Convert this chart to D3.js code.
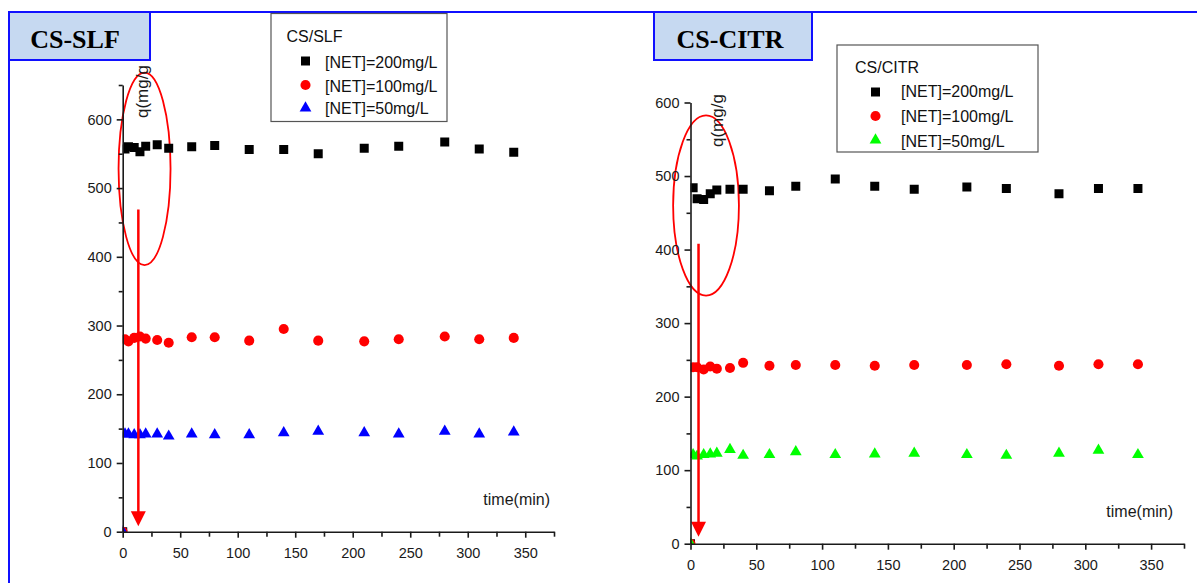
<!DOCTYPE html>
<html><head><meta charset="utf-8">
<script src="https://cdn.jsdelivr.net/npm/d3@7/dist/d3.min.js"></script>
<style>body{margin:0;background:#fff}svg{display:block}</style>
</head><body><svg id="c" width="1197" height="583"></svg>
<script>
// ---- data ----
const times   = [0, 2, 5, 10, 15, 20, 30, 40, 60, 80, 110, 140, 170, 210, 240, 280, 310, 340];
const slf200  = [0, 557, 560, 559, 553, 561, 563, 558, 560, 562, 556, 556, 550, 558, 561, 567, 557, 552];
const slf100  = [0, 280, 277, 282, 284, 281, 279, 275, 283, 283, 278, 295, 278, 277, 280, 284, 280, 282];
const slf50   = [0, 142, 142, 141, 141, 142, 142, 139, 142, 141, 141, 144, 146, 144, 142, 146, 142, 145];
const citr200 = [0, 484, 469, 468, 476, 481, 482, 482, 480, 486, 496, 486, 482, 485, 483, 476, 483, 483];
const citr100 = [0, 240, 240, 237, 241, 238, 239, 246, 242, 243, 243, 242, 243, 243, 244, 242, 244, 244];
const citr50  = [0, 121, 119, 121, 122, 123, 128, 120, 121, 125, 121, 122, 123, 121, 120, 123, 127, 121];
const xTicks  = [0, 50, 100, 150, 200, 250, 300, 350];
const xMinor  = [25, 75, 125, 175, 225, 275, 325, 375];
const yTicks  = [0, 100, 200, 300, 400, 500, 600];
const yMinorL = [50, 150, 250, 350, 450, 550, 650];
const yMinorR = [50, 150, 250, 350, 450, 550];
const seriesNames = ["[NET]=200mg/L", "[NET]=100mg/L", "[NET]=50mg/L"];
// annotation (data units): ellipse [t, q, rt, rq], arrow [t, qFrom, qTo]
const ellipseL = [19, 528, 22.6, 140];
const arrowL   = [13.6, 469, 8];
const ellipseR = [11.8, 460, 25, 122.5];
const arrowR   = [6.1, 408, 9.5];

const svg = d3.select("#c");
const FONT = "'Liberation Sans', Arial, sans-serif";

// frame lines
svg.append("line").attr("x1", 9).attr("x2", 1197).attr("y1", 12).attr("y2", 12)
  .attr("stroke", "#1010ff").attr("stroke-width", 2);
svg.append("line").attr("x1", 9).attr("x2", 9).attr("y1", 12).attr("y2", 583)
  .attr("stroke", "#1010ff").attr("stroke-width", 2);

function titleBox(x, w, label, cx) {
  svg.append("rect").attr("x", x).attr("y", 12).attr("width", w).attr("height", 48)
    .attr("fill", "#c6d9f1").attr("stroke", "#1010ff").attr("stroke-width", 2);
  svg.append("text").attr("x", cx).attr("y", 48).attr("text-anchor", "middle")
    .attr("font-family", "'Liberation Serif', 'Times New Roman', serif")
    .attr("font-weight", "bold").attr("font-size", 26).attr("fill", "#000").text(label);
}
titleBox(9, 141, "CS-SLF", 75);
titleBox(654, 158, "CS-CITR", 730);

const symbols = [d3.symbolSquare, d3.symbolCircle, d3.symbolTriangle];
const sizes = [81, 80, 60];

function panel(p) {
  const x = d3.scaleLinear().domain([0, 375]).range([p.x0, p.x1]);
  const y = d3.scaleLinear().domain([0, p.ymax]).range([p.yB, p.yT]);
  const g = svg.append("g");
  const clipId = "clip" + p.id;
  svg.append("clipPath").attr("id", clipId).append("rect")
    .attr("x", p.x0).attr("y", p.yT - 10).attr("width", p.x1 - p.x0 + 10).attr("height", p.yB - p.yT + 10);

  // annotation ellipse
  const e = p.ellipse;
  g.append("ellipse").attr("cx", x(e[0])).attr("cy", y(e[1]))
    .attr("rx", x(e[2]) - x(0)).attr("ry", y(0) - y(e[3]))
    .attr("fill", "none").attr("stroke", "#ff0000").attr("stroke-width", 1.8);

  // data markers
  const dg = g.append("g").attr("clip-path", `url(#${clipId})`);
  p.series.forEach((vals, i) => {
    dg.selectAll(null).data(times.map((t, k) => [t, vals[k]])).enter()
      .append("path")
      .attr("d", d3.symbol().type(symbols[i]).size(sizes[i]))
      .attr("transform", d => `translate(${x(d[0])},${y(d[1])})`)
      .attr("fill", p.colors[i]);
  });

  // arrow
  const a = p.arrow;
  const ax = x(a[0]), ay1 = y(a[1]), ay2 = y(a[2]);
  g.append("line").attr("x1", ax).attr("x2", ax).attr("y1", ay1).attr("y2", ay2 - 14)
    .attr("stroke", "#ff0000").attr("stroke-width", 2.5);
  g.append("path").attr("d", `M${ax - 7.5},${ay2 - 15} L${ax + 7.5},${ay2 - 15} L${ax},${ay2} Z`)
    .attr("fill", "#ff0000");

  // axes
  const styleAxis = sel => {
    sel.selectAll("path,line").attr("stroke", "#1a1a1a").attr("stroke-width", 1.6);
    sel.selectAll("text").attr("font-family", FONT).attr("font-size", 14.5).attr("fill", "#1a1a1a");
  };
  g.append("g").attr("transform", `translate(0,${p.yB})`)
    .call(d3.axisBottom(x).tickValues(xMinor).tickSize(5).tickSizeOuter(0).tickFormat(""))
    .call(styleAxis).select(".domain").remove();
  g.append("g").attr("transform", `translate(0,${p.yB})`)
    .call(d3.axisBottom(x).tickValues(xTicks).tickSize(6).tickSizeOuter(0).tickPadding(10).tickFormat(d3.format("d")))
    .call(styleAxis);
  g.append("g").attr("transform", `translate(${p.x0},0)`)
    .call(d3.axisLeft(y).tickValues(p.yMinor).tickSize(4).tickSizeOuter(0).tickFormat(""))
    .call(styleAxis).select(".domain").remove();
  g.append("g").attr("transform", `translate(${p.x0},0)`)
    .call(d3.axisLeft(y).tickValues(yTicks).tickSize(6).tickSizeOuter(0).tickPadding(5).tickFormat(d3.format("d")))
    .call(styleAxis);

  // axis titles
  g.append("text").attr("x", p.xlab[0]).attr("y", p.xlab[1]).attr("text-anchor", "end")
    .attr("font-family", FONT).attr("font-size", 16).attr("fill", "#1a1a1a").text("time(min)");
  g.append("text").attr("transform", `translate(${p.ylab[0]},${p.ylab[1]}) rotate(-90)`)
    .attr("font-family", FONT).attr("font-size", 17).attr("fill", "#1a1a1a").text("q(mg/g");

  // legend
  const L = p.legend;
  g.append("rect").attr("x", L.x).attr("y", L.y).attr("width", L.w).attr("height", L.h)
    .attr("fill", "#fff").attr("stroke", "#555").attr("stroke-width", 1.2);
  g.append("text").attr("x", L.tx).attr("y", L.ty).attr("font-family", FONT).attr("font-size", 16)
    .attr("fill", "#111").text(p.name);
  seriesNames.forEach((s, i) => {
    g.append("path").attr("d", d3.symbol().type(symbols[i]).size(sizes[i]))
      .attr("transform", `translate(${L.mx},${L.my[i]})`).attr("fill", p.colors[i]);
    g.append("text").attr("x", L.lx).attr("y", L.ly[i]).attr("font-family", FONT).attr("font-size", 16)
      .attr("fill", "#111").text(s);
  });
}

panel({
  id: "L", x0: 122.7, x1: 554, yB: 531.7, yT: 85, ymax: 650, yMinor: yMinorL,
  series: [slf200, slf100, slf50], colors: ["#000000", "#ff0000", "#0000ff"],
  ellipse: ellipseL, arrow: arrowL, xlab: [550, 505], ylab: [148, 118], name: "CS/SLF",
  legend: {x: 271, y: 13.5, w: 176, h: 108, tx: 286.5, ty: 41.5, mx: 305.5, my: [61, 85, 108],
           lx: 325, ly: [68.3, 91.7, 114]}
});
panel({
  id: "R", x0: 690.5, x1: 1184, yB: 543.7, yT: 102.5, ymax: 600, yMinor: yMinorR,
  series: [citr200, citr100, citr50], colors: ["#000000", "#ff0000", "#00ff00"],
  ellipse: ellipseR, arrow: arrowR, xlab: [1173, 517], ylab: [723, 147], name: "CS/CITR",
  legend: {x: 837, y: 45, w: 201, h: 107, tx: 855, ty: 73.3, mx: 875.5, my: [92, 116, 140],
           lx: 901, ly: [97.3, 122.3, 146.5]}
});
</script></body></html>
